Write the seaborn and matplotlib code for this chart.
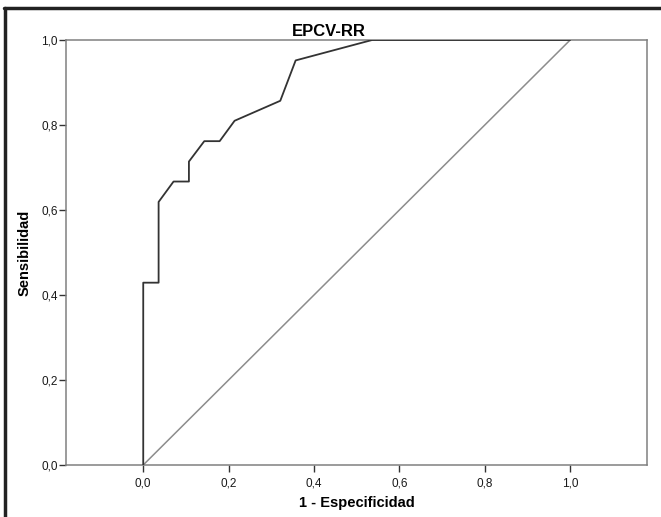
import matplotlib
matplotlib.use("Agg")
import matplotlib.pyplot as plt
import seaborn as sns
import pandas as pd
from matplotlib.lines import Line2D
from matplotlib.ticker import FuncFormatter

# ___ Data ___

fpr = [0.0, 0.0, 0.036, 0.036, 0.071, 0.107, 0.107, 0.143, 0.179, 0.214, 0.321, 0.357, 0.536, 1.0]
tpr = [0.0, 0.429, 0.429, 0.619, 0.667, 0.667, 0.714, 0.762, 0.762, 0.810, 0.857, 0.952, 1.0, 1.0]
ref_line = [0.0, 1.0]

title = "EPCV-RR"
xlabel = "1 - Especificidad"
ylabel = "Sensibilidad"
ticks = [0.0, 0.2, 0.4, 0.6, 0.8, 1.0]

# ___ Plot ___

sns.set_theme(style="white")
plt.rcParams['font.family'] = ['Liberation Sans', 'DejaVu Sans']
plt.rcParams['text.color'] = 'black'
plt.rcParams['axes.labelcolor'] = 'black'

fig = plt.figure(figsize=(6.61, 5.17), dpi=100)
ax = fig.add_axes([0.0998, 0.1006, 0.879, 0.8220])

roc = pd.DataFrame({"fpr": fpr, "tpr": tpr})
sns.lineplot(data=roc, x="fpr", y="tpr", sort=False, estimator=None,
             color="#333333", linewidth=1.3, ax=ax, zorder=3)
sns.lineplot(x=ref_line, y=ref_line, color="#8c8c8c", linewidth=1.1, ax=ax, zorder=2)

ax.set_xlim(-0.181, 1.18)
ax.set_ylim(0, 1)
ax.set_xticks(ticks)
ax.set_yticks(ticks)
comma = FuncFormatter(lambda v, p: f"{v:.1f}".replace(".", ","))
ax.xaxis.set_major_formatter(comma)
ax.yaxis.set_major_formatter(comma)
ax.tick_params(axis="both", direction="out", length=5, width=1, color="#333333",
               labelsize=8.5, labelcolor="#1a1a1a", bottom=True, left=True)
ax.tick_params(axis="x", pad=4)
ax.tick_params(axis="y", pad=1)

for s in ax.spines.values():
    s.set_color("#808080")
    s.set_linewidth(1.1)

ax.set_xlabel(xlabel, fontsize=10.5, fontweight="bold", labelpad=5)
ax.set_ylabel(ylabel, fontsize=10.5, fontweight="bold", labelpad=7)
fig.text(0.497, 0.940, title, ha="center", va="center", fontsize=12, fontweight="bold")

# outer frame (top and left edges)
fig.add_artist(Line2D([0.006, 1.0], [0.985, 0.985], color="#222222", linewidth=2.5,
                      transform=fig.transFigure))
fig.add_artist(Line2D([0.008, 0.008], [0.0, 0.985], color="#222222", linewidth=2.5,
                      transform=fig.transFigure))

fig.savefig("out.png", dpi=100)
